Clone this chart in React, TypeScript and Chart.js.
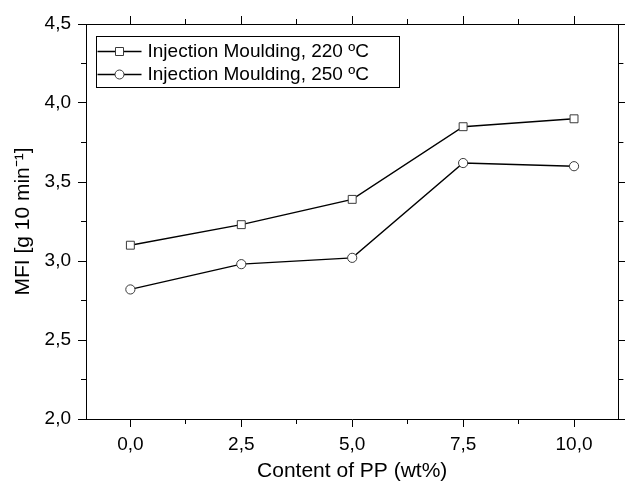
import React, { useEffect, useRef } from 'react';
import { Chart, registerables } from 'chart.js';

Chart.register(...registerables);

// ---- data ----
const xValues = [0, 2.5, 5, 7.5, 10];
const series220 = [3.10, 3.23, 3.39, 3.85, 3.90];
const series250 = [2.82, 2.98, 3.02, 3.62, 3.60];
const xTickValues = [0, 2.5, 5, 7.5, 10];
const xMinorTickValues = [1.25, 3.75, 6.25, 8.75];
const yTickValues = [2.0, 2.5, 3.0, 3.5, 4.0, 4.5];
const yMinorTickValues = [2.25, 2.75, 3.25, 3.75, 4.25];
const label220 = 'Injection Moulding, 220 ºC';
const label250 = 'Injection Moulding, 250 ºC';
const xTitle = 'Content of PP (wt%)';
const yTitle = 'MFI [g 10 min⁻¹]';

const FAMILY = '"Liberation Sans", Arial, Helvetica, sans-serif';
const fmt = (v: number) => Number(v).toFixed(1).replace('.', ',');

const minorTicksPlugin = {
  id: 'minorTicks',
  afterDraw(chart: any) {
    const { ctx } = chart;
    const { x, x2, y, y2 } = chart.scales;
    const len = 5;
    ctx.save();
    ctx.strokeStyle = '#000';
    ctx.lineWidth = 1;
    ctx.beginPath();
    xMinorTickValues.forEach((v) => {
      const px = Math.floor(x.getPixelForValue(v)) + 0.5;
      ctx.moveTo(px, x.top);
      ctx.lineTo(px, x.top + len);
      ctx.moveTo(px, x2.bottom);
      ctx.lineTo(px, x2.bottom - len);
    });
    yMinorTickValues.forEach((v) => {
      const py = Math.floor(y.getPixelForValue(v)) + 0.5;
      ctx.moveTo(y.right, py);
      ctx.lineTo(y.right - len, py);
      ctx.moveTo(y2.left, py);
      ctx.lineTo(y2.left + len, py);
    });
    ctx.stroke();
    ctx.restore();
  },
};

const boxLegendPlugin = {
  id: 'boxLegend',
  afterDatasetsDraw(chart: any) {
    const { ctx, chartArea } = chart;
    const datasets = chart.data.datasets;
    ctx.save();
    ctx.font = `19px ${FAMILY}`;
    const left = Math.floor(chartArea.left + 10) + 0.5;
    const top = Math.floor(chartArea.top + 12) + 0.5;
    const sampleStart = left + 1;
    const sampleEnd = left + 45;
    const textX = left + 51;
    const rowH = 23;
    const firstRow = top + 14.5;
    const textW = Math.max(...datasets.map((d: any) => ctx.measureText(d.label).width));
    const width = Math.round(textX - left + textW + 31);
    const height = 51;
    ctx.fillStyle = '#fff';
    ctx.fillRect(left, top, width, height);
    ctx.strokeStyle = '#000';
    ctx.lineWidth = 1;
    ctx.strokeRect(left, top, width, height);
    datasets.forEach((d: any, i: number) => {
      const cy = Math.round(firstRow + i * rowH) + 0.5;
      ctx.strokeStyle = '#000';
      ctx.lineWidth = 1.4;
      ctx.beginPath();
      ctx.moveTo(sampleStart, cy);
      ctx.lineTo(sampleEnd, cy);
      ctx.stroke();
      const mx = (sampleStart + sampleEnd) / 2;
      ctx.fillStyle = '#fff';
      ctx.strokeStyle = '#3a3a3a';
      ctx.lineWidth = 1;
      ctx.beginPath();
      if (d.pointStyle === 'rect') {
        ctx.rect(mx - 4, cy - 4, 8, 8);
      } else {
        ctx.arc(mx, cy, 4.5, 0, Math.PI * 2);
      }
      ctx.fill();
      ctx.stroke();
      ctx.fillStyle = '#000';
      ctx.textBaseline = 'middle';
      ctx.textAlign = 'left';
      ctx.fillText(d.label, textX, cy);
    });
    ctx.restore();
  },
};

export default function App() {
  const canvasRef = useRef<HTMLCanvasElement | null>(null);

  useEffect(() => {
    document.body.style.margin = '0';
    const canvas = canvasRef.current;
    if (!canvas) return;

    const tickFont = { family: FAMILY, size: 19 };
    const titleFont = { family: FAMILY, size: 21, lineHeight: 1 };
    const gridCommon = {
      drawOnChartArea: false,
      drawTicks: true,
      tickLength: 8,
      color: '#000',
      lineWidth: 1,
    };
    const border = { display: true, color: '#000', width: 1 };

    const chart = new Chart(canvas, {
      type: 'line',
      data: {
        datasets: [
          {
            label: label220,
            data: xValues.map((x, i) => ({ x, y: series220[i] })),
            xAxisID: 'x',
            yAxisID: 'y',
            borderColor: '#000',
            borderWidth: 1.4,
            pointStyle: 'rect',
            pointRadius: 5.6,
            pointBackgroundColor: '#fff',
            pointBorderColor: '#3a3a3a',
            pointBorderWidth: 1,
            tension: 0,
            fill: false,
          },
          {
            label: label250,
            data: xValues.map((x, i) => ({ x, y: series250[i] })),
            xAxisID: 'x',
            yAxisID: 'y',
            borderColor: '#000',
            borderWidth: 1.4,
            pointStyle: 'circle',
            pointRadius: 4.6,
            pointBackgroundColor: '#fff',
            pointBorderColor: '#3a3a3a',
            pointBorderWidth: 1,
            tension: 0,
            fill: false,
          },
        ],
      },
      options: {
        responsive: false,
        animation: false,
        devicePixelRatio: 1,
        layout: { padding: 0 },
        plugins: {
          legend: { display: false },
          tooltip: { enabled: false },
        },
        scales: {
          x: {
            type: 'linear',
            position: 'bottom',
            min: -1,
            max: 11,
            afterBuildTicks: (s: any) => {
              s.ticks = xTickValues.map((v) => ({ value: v }));
            },
            afterFit: (s: any) => {
              s.height = 63;
            },
            ticks: {
              color: '#000',
              font: tickFont,
              padding: 6,
              autoSkip: false,
              maxRotation: 0,
              callback: (v: any) => fmt(v),
            },
            grid: gridCommon,
            border,
            title: {
              display: true,
              text: xTitle,
              color: '#000',
              font: titleFont,
              padding: { top: 0, bottom: 0 },
            },
          },
          x2: {
            type: 'linear',
            position: 'top',
            min: -1,
            max: 11,
            afterBuildTicks: (s: any) => {
              s.ticks = xTickValues.map((v) => ({ value: v }));
            },
            afterFit: (s: any) => {
              s.height = 24;
            },
            ticks: { display: false },
            grid: gridCommon,
            border,
          },
          y: {
            type: 'linear',
            position: 'left',
            min: 2,
            max: 4.5,
            afterBuildTicks: (s: any) => {
              s.ticks = yTickValues.map((v) => ({ value: v }));
            },
            afterFit: (s: any) => {
              s.width = 86;
            },
            ticks: {
              color: '#000',
              font: tickFont,
              padding: 7,
              autoSkip: false,
              callback: (v: any) => fmt(v),
            },
            grid: gridCommon,
            border,
            title: {
              display: true,
              text: yTitle,
              color: '#000',
              font: titleFont,
              padding: { top: 13, bottom: 0 },
            },
          },
          y2: {
            type: 'linear',
            position: 'right',
            min: 2,
            max: 4.5,
            afterBuildTicks: (s: any) => {
              s.ticks = yTickValues.map((v) => ({ value: v }));
            },
            afterFit: (s: any) => {
              s.width = 5;
            },
            ticks: { display: false },
            grid: gridCommon,
            border,
          },
        },
      } as any,
      plugins: [minorTicksPlugin, boxLegendPlugin],
    });

    return () => {
      chart.destroy();
    };
  }, []);

  return (
    <div style={{ width: 625, height: 482, background: '#fff' }}>
      <canvas ref={canvasRef} width={625} height={482} style={{ display: 'block' }} />
    </div>
  );
}
